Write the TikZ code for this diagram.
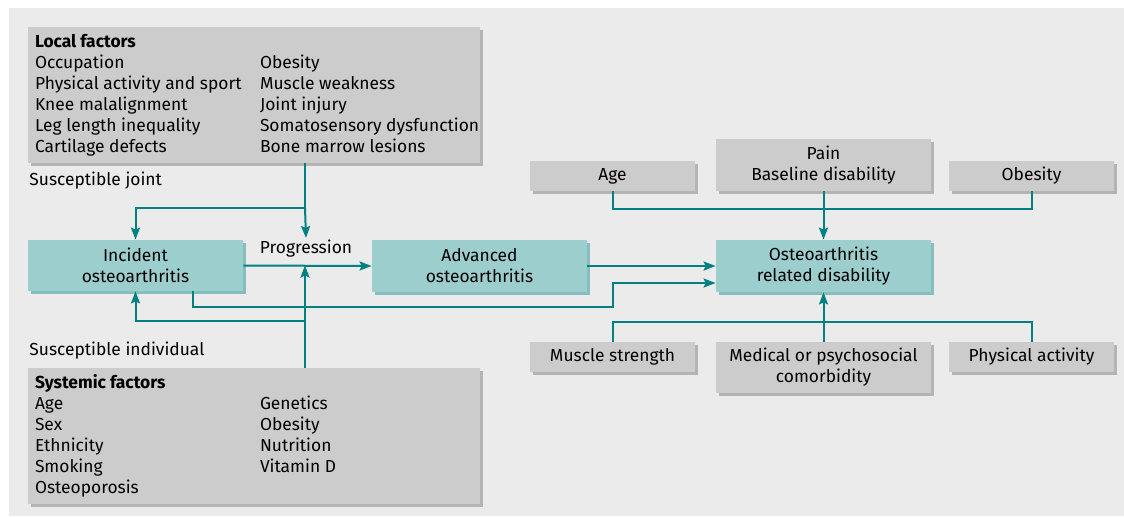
\documentclass[tikz,border=0pt]{standalone}
\usepackage{fontspec}
\setmainfont{Fira Sans}
\usepackage{xcolor}
\usepackage{tikz}
\usetikzlibrary{positioning}
\usetikzlibrary{calc}
\usetikzlibrary{arrows.meta, shadows}
\definecolor{bgcol}{RGB}{235,235,235}
\definecolor{boxgray}{RGB}{204,204,204}
\definecolor{shadegray}{RGB}{180,180,180}
\definecolor{boxteal}{RGB}{156,206,206}
\definecolor{shadeteal}{RGB}{134,189,189}
\definecolor{lineteal}{RGB}{0,128,128}
\tikzstyle{factorbox} = [rectangle, inner sep=0pt, fill=boxgray, drop shadow={shadow xshift=1.6pt, shadow yshift=-1.5pt, fill=shadegray, opacity=1}]
\tikzstyle{stagebox} = [rectangle, inner sep=0pt, align=center, fill=boxteal, drop shadow={shadow xshift=1.6pt, shadow yshift=-1.5pt, fill=shadeteal, opacity=1}]
\tikzstyle{flow} = [line width=1pt, draw=lineteal, -{Stealth[length=6pt, width=4.5pt, inset=1pt]}]
\tikzstyle{joinline} = [line width=1pt, draw=lineteal]
\newcommand{\twocol}[1]{\begin{tabular}{@{}p{112.5pt}@{}l@{}}#1\end{tabular}}

\begin{document}
\begin{tikzpicture}[x=0.5pt, y=-0.5pt, font=\fontsize{8.7}{10.5}\selectfont]
\useasboundingbox (0,0) rectangle (1124,516);
\fill[bgcol] (9,8) rectangle (1124,516);
% risk factor boxes (left)
\node[factorbox, minimum width=226pt, minimum height=68pt] (local) at (254,95) {};
\node[anchor=north west, inner sep=0pt] (localtext) at ($(local.north west)+(7,6)$)
  {\twocol{\textbf{Local factors} & \\ Occupation & Obesity\\ Physical activity and sport & Muscle weakness\\ Knee malalignment & Joint injury\\ Leg length inequality & Somatosensory dysfunction\\ Cartilage defects & Bone marrow lesions}};
\node[factorbox, minimum width=226pt, minimum height=68pt] (systemic) at (254,436) {};
\node[anchor=north west, inner sep=0pt] (systext) at ($(systemic.north west)+(7,6)$)
  {\twocol{\textbf{Systemic factors} & \\ Age & Genetics\\ Sex & Obesity\\ Ethnicity & Nutrition\\ Smoking & Vitamin D\\ Osteoporosis &}};
\node[anchor=west, inner sep=0pt] (joint) at (29,181) {Susceptible joint};
\node[anchor=west, inner sep=0pt] (individual) at (29,351) {Susceptible individual};
% disease stages
\node[stagebox, minimum width=107.5pt, minimum height=25.5pt] (incident) at (135.5,265.5) {Incident\\osteoarthritis};
\node[stagebox, minimum width=107.5pt, minimum height=26pt] (advanced) at (479.5,266) {Advanced\\osteoarthritis};
\node[stagebox, minimum width=107.5pt, minimum height=26pt] (disab) at (823.5,266) {Osteoarthritis\\related disability};
\node[inner sep=1pt] (prog) at (306,249) {Progression};
% modifiers of disability
\node[factorbox, minimum width=82.5pt, minimum height=15pt] (age) at (612.5,176) {Age};
\node[factorbox, minimum width=107.5pt, minimum height=26pt, align=center] (pain) at (823.5,165) {Pain\\Baseline disability};
\node[factorbox, minimum width=82.5pt, minimum height=15pt] (obesity) at (1031.5,176) {Obesity};
\node[factorbox, minimum width=82.5pt, minimum height=15pt] (muscle) at (612.5,357) {Muscle strength};
\node[factorbox, minimum width=107.5pt, minimum height=25.5pt, align=center] (medical) at (823.5,367.5) {Medical or psychosocial\\comorbidity};
\node[factorbox, minimum width=82.5pt, minimum height=15pt] (physical) at (1031.5,357) {Physical activity};
\coordinate (jn) at (305,208);
\coordinate (in) at (305,321);
\coordinate (low) at (193,307);
\coordinate (top) at (823.5,209);
\coordinate (bot) at (823.5,322);
% connectors
\draw[joinline] (local.south -| jn) -- (jn);
\draw[flow] (jn) -- (prog.north);
\draw[flow] (jn) -| (incident.north);
\draw[flow] (systemic.north -| in) -- (in) -- (incident.east -| in);
\draw[flow] (in) -| (incident.south);
\draw[flow] (incident.east) -- (advanced.west);
\draw[flow] (advanced.east) -- (advanced.east -| disab.west);
\draw[flow] (incident.south -| low) |- (age.south |- low) |- ($(disab.west)+(0,17)$);
\draw[joinline] (age.south) |- (obesity.south |- top) -- (obesity.south);
\draw[flow] (pain.south) -- (disab.north);
\draw[joinline] (muscle.north) |- (physical.north |- bot) -- (physical.north);
\draw[flow] (medical.north) -- (disab.south);
\end{tikzpicture}
\end{document}
